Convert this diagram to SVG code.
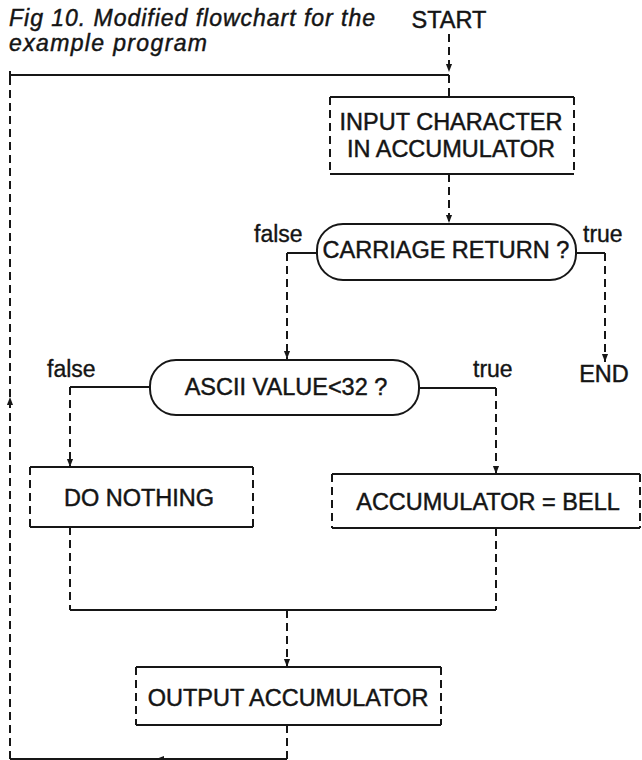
<svg xmlns="http://www.w3.org/2000/svg" width="642" height="760" viewBox="0 0 642 760">
<style>
  .s{fill:none;stroke:#161616;stroke-width:2}
  .d{fill:none;stroke:#161616;stroke-width:2;stroke-dasharray:8 5}
  .bg{fill:#ffffff;stroke:none}
  .t{font-family:"Liberation Sans",Arial,Helvetica,sans-serif;fill:#141414;stroke:#141414;stroke-width:0.45;font-size:23.5px}
  .c{text-anchor:middle}
  .lb{font-family:"Liberation Sans",Arial,Helvetica,sans-serif;fill:#141414;stroke:#141414;stroke-width:0.35;font-size:23px}
  .ti{font-family:"Liberation Sans",Arial,Helvetica,sans-serif;fill:#141414;stroke:#141414;stroke-width:0.45;font-size:23px;font-style:italic}
</style>
<defs>
  <marker id="arr" viewBox="0 0 10 10" refX="10" refY="5" markerUnits="userSpaceOnUse" markerWidth="8" markerHeight="8" orient="auto">
    <path d="M0,1.2 L10,5 L0,8.8 z" fill="#161616"/>
  </marker>
</defs>
<rect width="642" height="760" fill="#ffffff"/>

<g id="title">
  <text class="ti" x="9" y="26" textLength="366" lengthAdjust="spacing">Fig 10. Modified flowchart for the</text>
  <text class="ti" x="9" y="51" textLength="198" lengthAdjust="spacing">example program</text>
</g>

<g id="connectors">
  <path class="d" d="M449,34 V72" marker-end="url(#arr)"/>
  <path class="s" d="M449,75 H10 M10,71 V79"/>
  <path class="d" d="M449,75 V97"/>
  <path class="d" d="M449,174 V223" marker-end="url(#arr)"/>
  <path class="s" d="M317,253 H287"/>
  <path class="d" d="M287,253 V359" marker-end="url(#arr)"/>
  <path class="s" d="M576,253 H605"/>
  <path class="d" d="M605,253 V362" marker-end="url(#arr)"/>
  <path class="s" d="M150,387 H70"/>
  <path class="d" d="M70,387 V467" marker-end="url(#arr)"/>
  <path class="s" d="M419,388 H496"/>
  <path class="d" d="M496,388 V474" marker-end="url(#arr)"/>
  <path class="d" d="M70,527 V610"/>
  <path class="d" d="M496,528 V610"/>
  <path class="s" d="M70,610 H496"/>
  <path class="d" d="M287,610 V667" marker-end="url(#arr)"/>
  <path class="d" d="M287,725 V759"/>
  <path class="s" d="M287,759 H156" marker-end="url(#arr)"/>
  <path class="s" d="M156,759 H10"/>
  <path class="d" d="M10,759 V397" marker-end="url(#arr)"/>
  <path class="d" d="M10,397 V79"/>
</g>

<g id="start">
  <text class="t c" x="449" y="28">START</text>
</g>

<g id="input">
  <rect class="bg" x="330" y="97" width="244" height="77"/>
  <path class="s" d="M330,97 H574 M330,174 H574"/>
  <path class="d" d="M330,97 V174 M574,97 V174"/>
  <text class="t c" x="451" y="130">INPUT CHARACTER</text>
  <text class="t c" x="451" y="157">IN ACCUMULATOR</text>
</g>

<g id="carriage-return">
  <rect class="s" x="317" y="224" width="259" height="56" rx="26" ry="26" fill="#ffffff"/>
  <text class="t c" x="446" y="258">CARRIAGE RETURN ?</text>
  <text class="lb" x="254" y="242">false</text>
  <text class="lb" x="583" y="242">true</text>
</g>

<g id="end">
  <text class="t c" x="604" y="382">END</text>
</g>

<g id="ascii">
  <rect class="s" x="150" y="360" width="269" height="55" rx="26" ry="26" fill="#ffffff"/>
  <text class="t c" x="286" y="395">ASCII VALUE&lt;32 ?</text>
  <text class="lb" x="47" y="377">false</text>
  <text class="lb" x="473" y="377">true</text>
</g>

<g id="do-nothing">
  <rect class="bg" x="30" y="467" width="223" height="60"/>
  <path class="s" d="M30,467 H253 M30,527 H253"/>
  <path class="d" d="M30,467 V527 M253,467 V527"/>
  <text class="t c" x="139" y="506">DO NOTHING</text>
</g>

<g id="acc-bell">
  <rect class="bg" x="332" y="474" width="308" height="54"/>
  <path class="s" d="M332,474 H640 M332,528 H640"/>
  <path class="d" d="M332,474 V528 M640,474 V528"/>
  <text class="t c" x="488" y="510">ACCUMULATOR = BELL</text>
</g>

<g id="output">
  <rect class="bg" x="136" y="667" width="305" height="58"/>
  <path class="s" d="M136,667 H441 M136,725 H441"/>
  <path class="d" d="M136,667 V725 M441,667 V725"/>
  <text class="t c" x="288" y="706">OUTPUT ACCUMULATOR</text>
</g>
</svg>
